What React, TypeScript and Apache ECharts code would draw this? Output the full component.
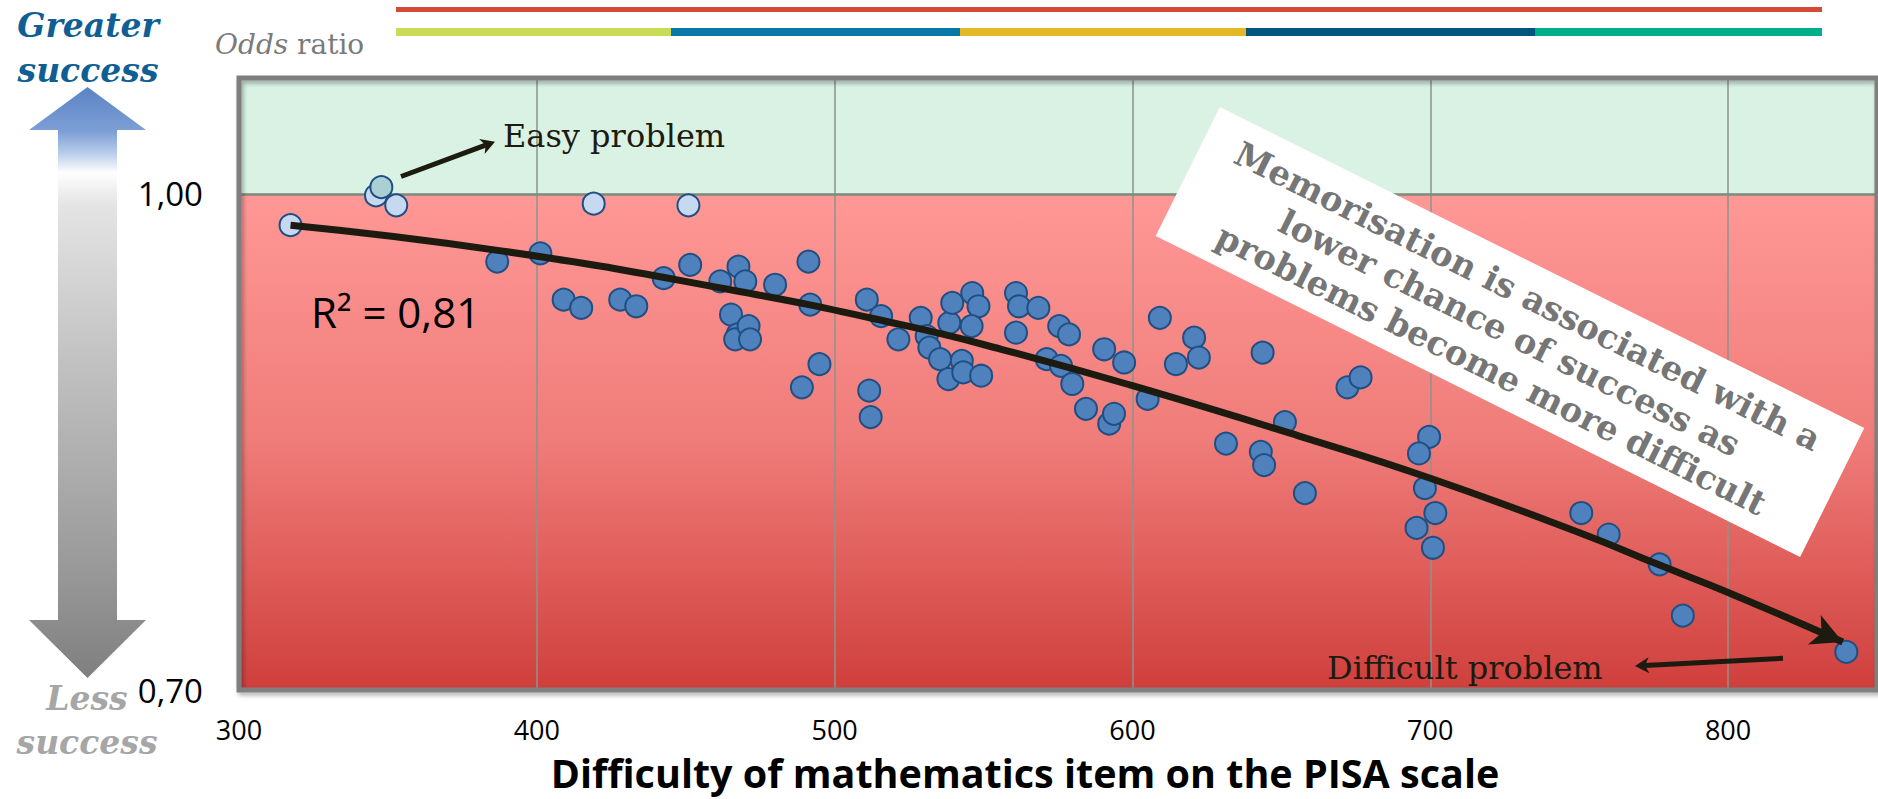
import React, { useEffect, useRef } from "react";
import * as echarts from "echarts";

const W = 1878;
const H = 799;

// ---- axes ----
const xMin = 300;
const xMax = 850;
const xTickValues = [300, 400, 500, 600, 700, 800];
const yMin = 0.7;
const yMax = 1.07;
const yLabelValues = [0.7, 1.0];
const yLabelTexts = ["0,70", "1,00"];
const successThreshold = 1.0;

// ---- data: items with a lower chance of success when memorising ----
const hardX = [386.7, 401.2, 409.0, 414.9, 428.0, 433.4, 442.6, 451.5, 461.6, 467.7, 470.0, 465.2, 467.4, 466.6, 471.1, 471.6, 480.0, 491.2, 491.8, 494.9, 489.0, 510.8, 515.6, 511.6, 512.1, 521.4, 528.9, 530.9, 531.8, 535.4, 538.2, 542.7, 543.2, 549.2, 538.5, 539.5, 546.2, 548.3, 546.0, 560.9, 561.9, 568.4, 560.9, 575.4, 578.7, 571.2, 576.0, 579.8, 584.4, 592.2, 593.8, 590.5, 597.2, 605.1, 609.2, 620.7, 622.3, 614.6, 643.7, 631.4, 643.1, 644.2, 651.2, 672.2, 676.6, 657.9, 699.6, 696.2, 698.2, 701.7, 695.4, 700.9, 750.7, 759.9, 777.0, 784.8, 839.7];
const hardY = [0.959, 0.964, 0.936, 0.931, 0.936, 0.932, 0.949, 0.957, 0.947, 0.956, 0.947, 0.927, 0.915, 0.912, 0.920, 0.912, 0.945, 0.959, 0.933, 0.897, 0.883, 0.936, 0.926, 0.881, 0.865, 0.912, 0.925, 0.914, 0.907, 0.900, 0.888, 0.899, 0.892, 0.890, 0.922, 0.934, 0.940, 0.932, 0.920, 0.940, 0.932, 0.931, 0.916, 0.920, 0.915, 0.900, 0.896, 0.885, 0.870, 0.861, 0.867, 0.906, 0.898, 0.876, 0.925, 0.913, 0.901, 0.897, 0.904, 0.849, 0.844, 0.836, 0.862, 0.883, 0.889, 0.819, 0.853, 0.843, 0.822, 0.807, 0.798, 0.786, 0.807, 0.794, 0.776, 0.745, 0.723];

// items close to odds ratio 1
const easyX = [317.3, 346.0, 352.8, 419.1, 450.9];
const easyY = [0.981, 0.999, 0.993, 0.994, 0.993];
const easiestX = [347.8];
const easiestY = [1.004];

// trend line
const trendX = [317.3, 388, 465, 522, 556, 600, 656, 700, 751, 777, 800, 838.5];
const trendY = [0.981, 0.9655, 0.942, 0.921, 0.906, 0.884, 0.8535, 0.828, 0.7945, 0.7755, 0.759, 0.729];

// ---- texts ----
const r2Text = "R\u00b2 = 0,81";
const calloutLines = ["Memorisation is associated with a", "lower chance of success as", "problems become more difficult"];
const xAxisTitle = "Difficulty of mathematics item on the PISA scale";
const easyLabel = "Easy problem";
const hardLabel = "Difficult problem";
const barColors = ["#c8dd55", "#0878a6", "#e4b825", "#03547f", "#00ae89"];

const INK = "#1d1b10";
const SERIF = "DejaVu Serif";
const SANS = "Open Sans";

function arrowHead(tip: number[], from: number[], len: number, halfW: number, notch: number) {
  const dx = tip[0] - from[0];
  const dy = tip[1] - from[1];
  const d = Math.hypot(dx, dy) || 1;
  const ux = dx / d, uy = dy / d;
  const px = -uy, py = ux;
  const bx = tip[0] - ux * len, by = tip[1] - uy * len;
  return {
    poly: [
      [tip[0], tip[1]],
      [bx + px * halfW, by + py * halfW],
      [tip[0] - ux * notch, tip[1] - uy * notch],
      [bx - px * halfW, by - py * halfW],
    ],
    notch: [tip[0] - ux * notch, tip[1] - uy * notch],
  };
}

export default function App() {
  const ref = useRef<HTMLDivElement>(null);

  useEffect(() => {
    document.body.style.margin = "0";
    const chart = echarts.init(ref.current!, null, { renderer: "svg" });

    const easyFrom = [401, 176.5];
    const easyTip = [495, 141.7];
    const easyA = arrowHead(easyTip, easyFrom, 14, 8, 10);
    const hardFrom = [1783, 658.3];
    const hardTip = [1635, 666];
    const hardA = arrowHead(hardTip, hardFrom, 14, 8, 10);

    const bounds = [396, 671, 960, 1246, 1535, 1822];

    const graphics: any[] = [
      { id: "redbar", type: "rect", shape: { x: 396, y: 7, width: 1426, height: 5 }, style: { fill: "#d44a35" }, z: 1 },
      ...barColors.map((c, i) => ({
        id: "bar" + i,
        type: "rect",
        shape: { x: bounds[i], y: 28, width: bounds[i + 1] - bounds[i], height: 8 },
        style: { fill: c },
        z: 1,
      })),
      {
        id: "odds",
        type: "text",
        x: 215,
        y: 44,
        style: {
          text: "{i|Odds}{r| ratio}",
          align: "left",
          textAlign: "left",
          verticalAlign: "middle",
          textVerticalAlign: "middle",
          rich: {
            i: { fontFamily: SERIF, fontStyle: "italic", fontSize: 28, fill: "#7a7a7a" },
            r: { fontFamily: SERIF, fontSize: 28, fill: "#7a7a7a" },
          },
        },
        z: 1,
      },
      {
        id: "bigarrow",
        type: "polygon",
        shape: {
          points: [[87.5, 87], [146, 130], [117, 130], [117, 620], [146, 620], [87.5, 678], [29, 620], [58, 620], [58, 130], [29, 130]],
        },
        style: {
          fill: new echarts.graphic.LinearGradient(0, 0, 0, 1, [
            { offset: 0, color: "#5a83c5" },
            { offset: 0.075, color: "#7d9fd5" },
            { offset: 0.11, color: "#b4cae9" },
            { offset: 0.145, color: "#fefefe" },
            { offset: 0.2, color: "#e4e4e4" },
            { offset: 0.46, color: "#c2c2c2" },
            { offset: 0.8, color: "#9b9b9b" },
            { offset: 1, color: "#7f7f7f" },
          ]),
        },
        z: 1,
      },
      {
        id: "greater",
        type: "text",
        x: 88,
        y: 47.5,
        style: {
          text: "Greater\nsuccess",
          fontFamily: SERIF,
          fontWeight: "bold",
          fontStyle: "italic",
          fontSize: 33,
          lineHeight: 45,
          fill: "#0f5f94",
          align: "center",
          textAlign: "center",
          verticalAlign: "middle",
          textVerticalAlign: "middle",
        },
        z: 1,
      },
      {
        id: "less",
        type: "text",
        x: 87,
        y: 720,
        style: {
          text: "Less\nsuccess",
          fontFamily: SERIF,
          fontWeight: "bold",
          fontStyle: "italic",
          fontSize: 33,
          lineHeight: 44,
          fill: "#a6a6a6",
          align: "center",
          textAlign: "center",
          verticalAlign: "middle",
          textVerticalAlign: "middle",
        },
        z: 1,
      },
      {
        id: "xtitle",
        type: "text",
        x: 1025,
        y: 773,
        style: {
          text: xAxisTitle,
          fontFamily: SANS,
          fontWeight: "bold",
          fontSize: 39.5,
          fill: "#000",
          align: "center",
          textAlign: "center",
          verticalAlign: "middle",
          textVerticalAlign: "middle",
        },
        z: 1,
      },
      {
        id: "r2",
        type: "text",
        x: 311,
        y: 311,
        style: {
          text: r2Text,
          fontFamily: SANS,
          fontSize: 42,
          fill: "#000",
          align: "left",
          textAlign: "left",
          verticalAlign: "middle",
          textVerticalAlign: "middle",
        },
        z: 20,
      },
      {
        id: "easyText",
        type: "text",
        x: 503,
        y: 136,
        style: {
          text: easyLabel,
          fontFamily: SERIF,
          fontSize: 32,
          fill: INK,
          align: "left",
          textAlign: "left",
          verticalAlign: "middle",
          textVerticalAlign: "middle",
        },
        z: 20,
      },
      {
        id: "easyShaft",
        type: "line",
        shape: { x1: easyFrom[0], y1: easyFrom[1], x2: easyA.notch[0], y2: easyA.notch[1] },
        style: { stroke: INK, lineWidth: 5 },
        z: 20,
      },
      { id: "easyHead", type: "polygon", shape: { points: easyA.poly }, style: { fill: INK }, z: 20 },
      {
        id: "hardText",
        type: "text",
        x: 1327,
        y: 668,
        style: {
          text: hardLabel,
          fontFamily: SERIF,
          fontSize: 32,
          fill: INK,
          align: "left",
          textAlign: "left",
          verticalAlign: "middle",
          textVerticalAlign: "middle",
        },
        z: 20,
      },
      {
        id: "hardShaft",
        type: "line",
        shape: { x1: hardFrom[0], y1: hardFrom[1], x2: hardA.notch[0], y2: hardA.notch[1] },
        style: { stroke: INK, lineWidth: 5 },
        z: 20,
      },
      { id: "hardHead", type: "polygon", shape: { points: hardA.poly }, style: { fill: INK }, z: 20 },
      {
        id: "callout",
        type: "group",
        x: 1510,
        y: 332,
        rotation: (-26.5 * Math.PI) / 180,
        z: 20,
        children: [
          { type: "rect", shape: { x: -360, y: -72, width: 720, height: 144 }, style: { fill: "#ffffff" }, z: 20 },
          {
            type: "text",
            x: 0,
            y: 1,
            z: 21,
            style: {
              text: calloutLines.join("\n"),
              fontFamily: SERIF,
              fontWeight: "bold",
              fontSize: 34,
              lineHeight: 41,
              fill: "#767676",
              align: "center",
              textAlign: "center",
              verticalAlign: "middle",
              textVerticalAlign: "middle",
            },
          },
        ],
      },
    ];

    const zip = (xs: number[], ys: number[]) => xs.map((x, i) => [x, ys[i]]);

    const option: any = {
      animation: false,
      grid: {
        left: 239,
        right: 1,
        top: 78,
        bottom: 109,
        show: true,
        z: 10,
        backgroundColor: "transparent",
        borderColor: "#7f7f7f",
        borderWidth: 5,
        shadowColor: "rgba(0,0,0,0.3)",
        shadowBlur: 4,
        shadowOffsetX: 2,
        shadowOffsetY: 3,
      },
      xAxis: {
        type: "value",
        min: xMin,
        max: xMax,
        interval: 100,
        z: 3,
        axisLine: { show: false },
        axisTick: { show: false },
        splitLine: { show: true, lineStyle: { color: "#8a958c", width: 1.5 } },
        axisLabel: {
          fontFamily: SANS,
          fontSize: 27,
          color: "#000",
          margin: 26,
          showMaxLabel: false,
          formatter: (v: number) => (xTickValues.includes(v) ? String(v) : ""),
        },
      },
      yAxis: {
        type: "value",
        min: yMin,
        max: yMax,
        interval: 0.1,
        axisLine: { show: false },
        axisTick: { show: false },
        splitLine: { show: false },
        axisLabel: {
          fontFamily: SANS,
          fontSize: 33,
          color: "#000",
          margin: 36,
          showMaxLabel: false,
          formatter: (v: number) => {
            const i = yLabelValues.findIndex((t) => Math.abs(t - v) < 1e-6);
            return i >= 0 ? yLabelTexts[i] : "";
          },
        },
      },
      series: [
        {
          type: "line",
          data: [],
          z: 0,
          silent: true,
          markArea: {
            silent: true,
            z: 1,
            label: { show: false },
            data: [
              [{ yAxis: successThreshold, itemStyle: { color: "#d9f2e4" } }, { yAxis: yMax }],
              [
                {
                  yAxis: yMin,
                  itemStyle: {
                    color: new echarts.graphic.LinearGradient(0, 0, 0, 1, [
                      { offset: 0, color: "#ff9896" },
                      { offset: 0.5, color: "#ef7c79" },
                      { offset: 1, color: "#cf3f3c" },
                    ]),
                  },
                },
                { yAxis: successThreshold },
              ],
            ],
          },
          markLine: {
            silent: true,
            z: 4,
            symbol: ["none", "none"],
            label: { show: false },
            lineStyle: { color: "#7a8c7d", width: 2.5, type: "solid" },
            data: [{ yAxis: successThreshold }],
          },
        },
        {
          type: "scatter",
          z: 6,
          silent: true,
          data: zip(hardX, hardY),
          symbolSize: 22,
          itemStyle: { color: "#4f81bd", borderColor: "#1f4e82", borderWidth: 2, opacity: 1 },
        },
        {
          type: "scatter",
          z: 6,
          silent: true,
          data: zip(easyX, easyY),
          symbolSize: 22,
          itemStyle: { color: "#c6d9f0", borderColor: "#1f4e82", borderWidth: 2, opacity: 1 },
        },
        {
          type: "scatter",
          z: 6,
          silent: true,
          data: zip(easiestX, easiestY),
          symbolSize: 22,
          itemStyle: { color: "#a9d1d5", borderColor: "#1f4e82", borderWidth: 2, opacity: 1 },
        },
        {
          type: "line",
          z: 7,
          silent: true,
          data: zip(trendX, trendY),
          smooth: 0.5,
          symbol: "none",
          lineStyle: { color: INK, width: 7 },
        },
      ],
      graphic: { elements: graphics },
    };

    chart.setOption(option);

    const n = trendX.length;
    const a = chart.convertToPixel({ seriesIndex: 4 }, [trendX[n - 2], trendY[n - 2]]) as number[];
    const b = chart.convertToPixel({ seriesIndex: 4 }, [trendX[n - 1], trendY[n - 1]]) as number[];
    const head = arrowHead(b, a, 31, 16, 23);
    chart.setOption({
      graphic: {
        elements: [{ id: "trendHead", type: "polygon", shape: { points: head.poly }, style: { fill: INK }, z: 20 }],
      },
    });

    return () => chart.dispose();
  }, []);

  return <div ref={ref} style={{ width: W, height: H }} />;
}
